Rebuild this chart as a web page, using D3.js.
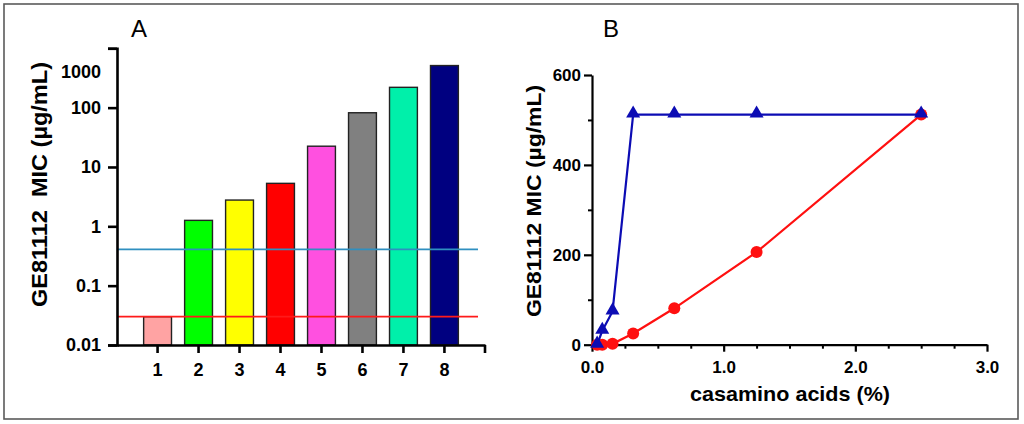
<!DOCTYPE html>
<html>
<head>
<meta charset="utf-8">
<script src="https://cdn.jsdelivr.net/npm/d3@7"></script>
<style>
  html, body { margin: 0; padding: 0; background: #fff; }
  svg { display: block; font-family: "Liberation Sans", Arial, sans-serif; }
</style>
</head>
<body>
<svg id="chart" width="1024" height="424"></svg>
<script>
// ---------- Data ----------
// Panel A
const strainCategories = ["1", "2", "3", "4", "5", "6", "7", "8"];
const micValues = [0.03, 1.26, 2.77, 5.3, 22.4, 82, 220, 512];
const barColors = ["#ffa3a3", "#00ff00", "#ffff00", "#ff0000", "#ff50e0", "#808080", "#00f0aa", "#000080"];
const refLineValues = [0.41, 0.03];
const refLineColors = ["#2f8fc0", "#ff1a1a"];
const yTicksA = [0.01, 0.1, 1, 10, 100, 1000];
const yTickLabelsA = ["0.01", "0.1", "1", "10", "100", "1000"];

// Panel B
const casaminoBlue = [0.039, 0.078, 0.156, 0.3125, 0.625, 1.25, 2.5];
const micBlue = [0, 31, 74, 512, 512, 512, 512];
const casaminoRed = [0.039, 0.078, 0.156, 0.3125, 0.625, 1.25, 2.5];
const micRed = [0, 0, 2, 25, 81, 206, 512];
const xTicksB = [0, 1, 2, 3];
const xMinorTicksB = [0.25, 0.5, 0.75, 1.25, 1.5, 1.75, 2.25, 2.5, 2.75];
const yTicksB = [0, 200, 400, 600];
const yMinorTicksB = [100, 300, 500];

const svg = d3.select("#chart");

// Outer frame
svg.append("rect")
  .attr("x", 4).attr("y", 4).attr("width", 1014).attr("height", 415)
  .attr("fill", "none").attr("stroke", "#5a5a5a").attr("stroke-width", 1.6);

// ---------- Panel A ----------
const xA = d3.scaleBand().domain(strainCategories).range([117, 485])
  .paddingInner(0.32).paddingOuter(0.65);
const yA = d3.scaleLog().domain([0.01, 1000]).range([345, 48.3]);

const gA = svg.append("g");

gA.selectAll("rect.bar").data(strainCategories).enter().append("rect")
  .attr("class", "bar")
  .attr("x", d => xA(d))
  .attr("width", xA.bandwidth())
  .attr("y", (d, i) => yA(micValues[i]))
  .attr("height", (d, i) => yA(0.01) - yA(micValues[i]))
  .attr("fill", (d, i) => barColors[i])
  .attr("stroke", "#222")
  .attr("stroke-width", 1.4);

// Reference lines
gA.selectAll("line.ref").data(refLineValues).enter().append("line")
  .attr("class", "ref")
  .attr("x1", xA.range()[0]).attr("x2", 478)
  .attr("y1", d => yA(d)).attr("y2", d => yA(d))
  .attr("stroke", (d, i) => refLineColors[i])
  .attr("stroke-width", 1.8);

// Y axis A
const yAxisA = gA.append("g").attr("transform", `translate(${xA.range()[0]},0)`)
  .call(d3.axisLeft(yA).tickValues(yTicksA)
    .tickFormat((d, i) => yTickLabelsA[i]).tickSize(9).tickSizeOuter(9).tickPadding(7));
yAxisA.select(".domain").attr("stroke-width", 2.6);
yAxisA.selectAll(".tick line").attr("stroke-width", 2.6);
yAxisA.selectAll(".tick text")
  .attr("font-size", 18).attr("font-weight", "bold").attr("fill", "#000")
  .attr("font-family", "'Liberation Sans', Arial, sans-serif")
  .attr("dy", d => d === 1000 ? "1.65em" : "0.32em");

// X axis A
const xAxisA = gA.append("g").attr("transform", `translate(0,${yA(0.01)})`)
  .call(d3.axisBottom(xA).tickSize(8).tickSizeOuter(0).tickPadding(10));
xAxisA.select(".domain").attr("stroke-width", 2.6);
xAxisA.selectAll(".tick line").attr("stroke-width", 2.6);
xAxisA.selectAll(".tick text")
  .attr("font-size", 18).attr("font-weight", "bold").attr("fill", "#000")
  .attr("font-family", "'Liberation Sans', Arial, sans-serif");
xAxisA.append("line")
  .attr("x1", xA.range()[1]).attr("x2", xA.range()[1])
  .attr("y1", 0).attr("y2", 8)
  .attr("stroke", "#000").attr("stroke-width", 2.6);

// Title A
gA.append("text")
  .attr("transform", "translate(47,184.5) rotate(-90)")
  .attr("text-anchor", "middle")
  .attr("font-size", 22).attr("font-weight", "bold")
  .attr("textLength", 245).attr("lengthAdjust", "spacingAndGlyphs")
  .attr("xml:space", "preserve").style("white-space", "pre")
  .text("GE81112  MIC (µg/mL)");

gA.append("text").attr("x", 131).attr("y", 37)
  .attr("font-size", 24).text("A");

// ---------- Panel B ----------
const xB = d3.scaleLinear().domain([0, 3]).range([592, 987]);
const yB = d3.scaleLinear().domain([0, 600]).range([344.7, 75]);
const gB = svg.append("g");

// Minor ticks
const yMinorB = gB.append("g").attr("transform", `translate(${xB(0)},0)`)
  .call(d3.axisLeft(yB).tickValues(yMinorTicksB).tickSize(4).tickSizeOuter(0).tickFormat(""));
yMinorB.select(".domain").remove();
yMinorB.selectAll(".tick line").attr("stroke-width", 2);

const xMinorB = gB.append("g").attr("transform", `translate(0,${yB(0)})`)
  .call(d3.axisBottom(xB).tickValues(xMinorTicksB).tickSize(4).tickSizeOuter(0).tickFormat(""));
xMinorB.select(".domain").remove();
xMinorB.selectAll(".tick line").attr("stroke-width", 2);

// Major axes
const yAxisB = gB.append("g").attr("transform", `translate(${xB(0)},0)`)
  .call(d3.axisLeft(yB).tickValues(yTicksB).tickSize(8).tickSizeOuter(0).tickPadding(3));
yAxisB.select(".domain").attr("stroke-width", 2.2);
yAxisB.selectAll(".tick line").attr("stroke-width", 2.2);
yAxisB.selectAll(".tick text")
  .attr("font-size", 17).attr("font-weight", "bold").attr("fill", "#000")
  .attr("font-family", "'Liberation Sans', Arial, sans-serif");

const xAxisB = gB.append("g").attr("transform", `translate(0,${yB(0)})`)
  .call(d3.axisBottom(xB).tickValues(xTicksB).tickFormat(d3.format(".1f"))
    .tickSize(7).tickSizeOuter(0).tickPadding(9));
xAxisB.select(".domain").attr("stroke-width", 2.2);
xAxisB.selectAll(".tick line").attr("stroke-width", 2.2);
xAxisB.selectAll(".tick text")
  .attr("font-size", 17).attr("font-weight", "bold").attr("fill", "#000")
  .attr("font-family", "'Liberation Sans', Arial, sans-serif");

// Series
const line = d3.line().x(d => xB(d[0])).y(d => yB(d[1]));
const redData = casaminoRed.map((x, i) => [x, micRed[i]]);
const blueData = casaminoBlue.map((x, i) => [x, micBlue[i]]);

gB.append("path").datum(redData).attr("d", line)
  .attr("fill", "none").attr("stroke", "#ff1010").attr("stroke-width", 2.2);
gB.selectAll("circle.red").data(redData).enter().append("circle")
  .attr("class", "red")
  .attr("cx", d => xB(d[0])).attr("cy", d => yB(d[1])).attr("r", 6)
  .attr("fill", "#ff1010");

gB.append("path").datum(blueData).attr("d", line)
  .attr("fill", "none").attr("stroke", "#0c0cb4").attr("stroke-width", 2.2);
const tri = d3.symbol().type(d3.symbolTriangle).size(85);
gB.selectAll("path.blue").data(blueData).enter().append("path")
  .attr("class", "blue")
  .attr("d", tri)
  .attr("transform", d => `translate(${xB(d[0])},${yB(d[1]) - 1})`)
  .attr("fill", "#0c0cb4");

// Titles B
gB.append("text")
  .attr("transform", "translate(541,201) rotate(-90)")
  .attr("text-anchor", "middle")
  .attr("font-size", 20).attr("font-weight", "bold")
  .attr("textLength", 232).attr("lengthAdjust", "spacingAndGlyphs")
  .text("GE81112 MIC (µg/mL)");

gB.append("text")
  .attr("x", 790).attr("y", 401)
  .attr("text-anchor", "middle")
  .attr("font-size", 21).attr("font-weight", "bold")
  .attr("textLength", 200).attr("lengthAdjust", "spacingAndGlyphs")
  .text("casamino acids (%)");

gB.append("text").attr("x", 603).attr("y", 37)
  .attr("font-size", 24).text("B");
</script>
</body>
</html>
